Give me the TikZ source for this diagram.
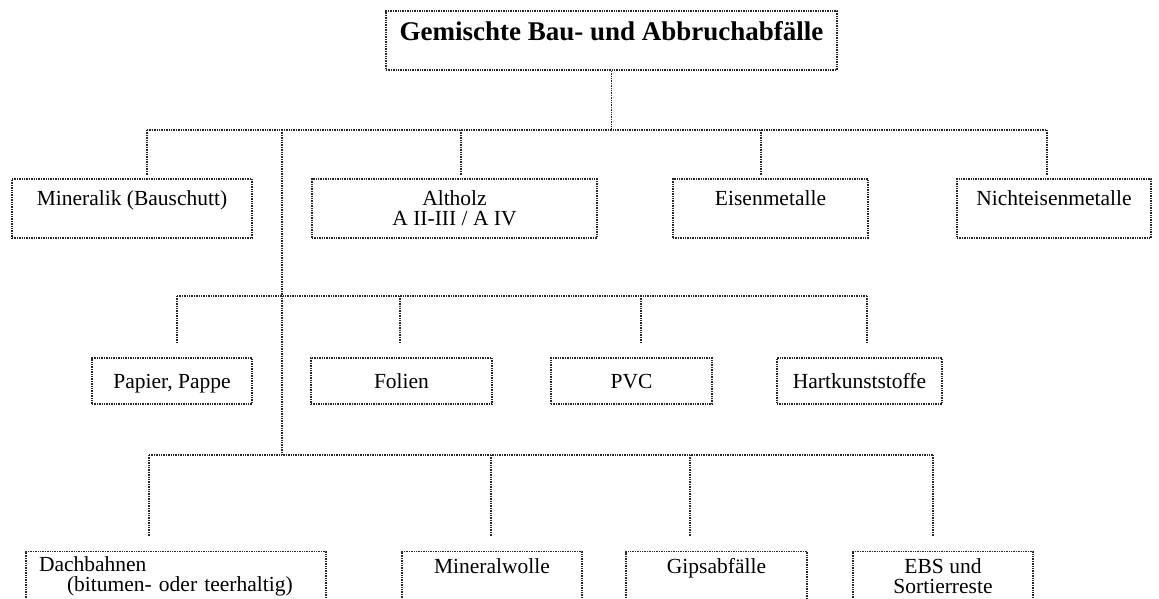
\documentclass[tikz,border=0pt]{standalone}
\usepackage{fontspec}
\setmainfont{Liberation Serif}
\tikzset{
  every picture/.style={line width=1.4pt},
  box/.style={draw=black!85, densely dotted, rectangle, inner xsep=4pt, inner ysep=0pt, align=center, font=\fontsize{21.5}{20}\selectfont},
  tall/.style={minimum height=59pt},
  flat/.style={text height=30pt, text depth=16pt},
  open/.style={minimum height=49pt},
  toptext/.style={text height=26pt, text depth=33pt},
  lowtext/.style={text height=21.5pt, text depth=27.5pt},
  title/.style={font=\fontsize{27}{28}\selectfont\bfseries, text height=29pt, text depth=30pt},
  link/.style={draw=black!85, densely dotted},
}
\begin{document}
\begin{tikzpicture}[x=1pt, y=-1pt]
  \useasboundingbox (0,0) rectangle (1159,598);
  \clip (0,0) rectangle (1159,598);
  \node[box, title, minimum width=451pt] (mixed) at (611.5,40.5) {Gemischte Bau- und Abbruchabfälle};
  % first row
  \node[box, toptext, minimum width=240pt] (mineralik) at (132,208.5) {Mineralik (Bauschutt)};
  \node[box, tall, minimum width=285pt] (altholz) at (454.5,208.5) {Altholz\\A II-III / A IV};
  \node[box, toptext, minimum width=195pt] (eisen) at (770.5,208.5) {Eisenmetalle};
  \node[box, toptext, minimum width=194pt] (nichteisen) at (1054,208.5) {Nichteisenmetalle};
  % second row
  \node[box, flat, minimum width=160pt] (papier) at (172,381) {Papier, Pappe};
  \node[box, flat, minimum width=181pt] (folien) at (401.5,381) {Folien};
  \node[box, flat, minimum width=161pt] (pvc) at (631.5,381) {PVC};
  \node[box, flat, minimum width=165pt] (hart) at (859.5,381) {Hartkunststoffe};
  % third row, cut at the bottom edge
  \node[box, open, align=left, text width=274pt, inner xsep=13pt] (dach) at (176,576) {Dachbahnen\\\hspace*{28pt}(bitumen- oder teerhaltig)};
  \node[box, lowtext, minimum width=180pt] (wolle) at (492,576) {Mineralwolle};
  \node[box, lowtext, minimum width=181pt] (gips) at (716.5,576) {Gipsabfälle};
  \node[box, open, minimum width=180pt] (ebs) at (943,576) {EBS und\\Sortierreste};
  % junctions on the three bus lines
  \coordinate (jmin) at (147,130);
  \coordinate (jalt) at (461,130);
  \coordinate (jeis) at (761,130);
  \coordinate (jnei) at (1047,130);
  \coordinate (trunk) at (282,130);
  \coordinate (jpap) at (177,296);
  \coordinate (jfol) at (400,296);
  \coordinate (jpvc) at (641,296);
  \coordinate (jhar) at (867,296);
  \coordinate (jdach) at (149,455);
  \coordinate (jwol) at (491,455);
  \coordinate (jgip) at (690,455);
  \coordinate (jebs) at (933,455);
  % links
  \draw[link] (mixed.south) -- (mixed.south |- jmin);
  \draw[link] (jmin) -- (jnei);
  \draw[link] (trunk) -- (trunk |- jdach);
  \draw[link] (jpap) -- (jhar);
  \draw[link] (jdach) -- (jebs);
  \foreach \j/\b in {jmin/mineralik, jalt/altholz, jeis/eisen, jnei/nichteisen}
    \draw[link, shorten >=3pt] (\j) -- (\j |- \b.north);
  \foreach \j/\b in {jpap/papier, jfol/folien, jpvc/pvc, jhar/hart, jdach/dach, jwol/wolle, jgip/gips, jebs/ebs}
    \draw[link, shorten >=15pt] (\j) -- (\j |- \b.north);
\end{tikzpicture}
\end{document}
